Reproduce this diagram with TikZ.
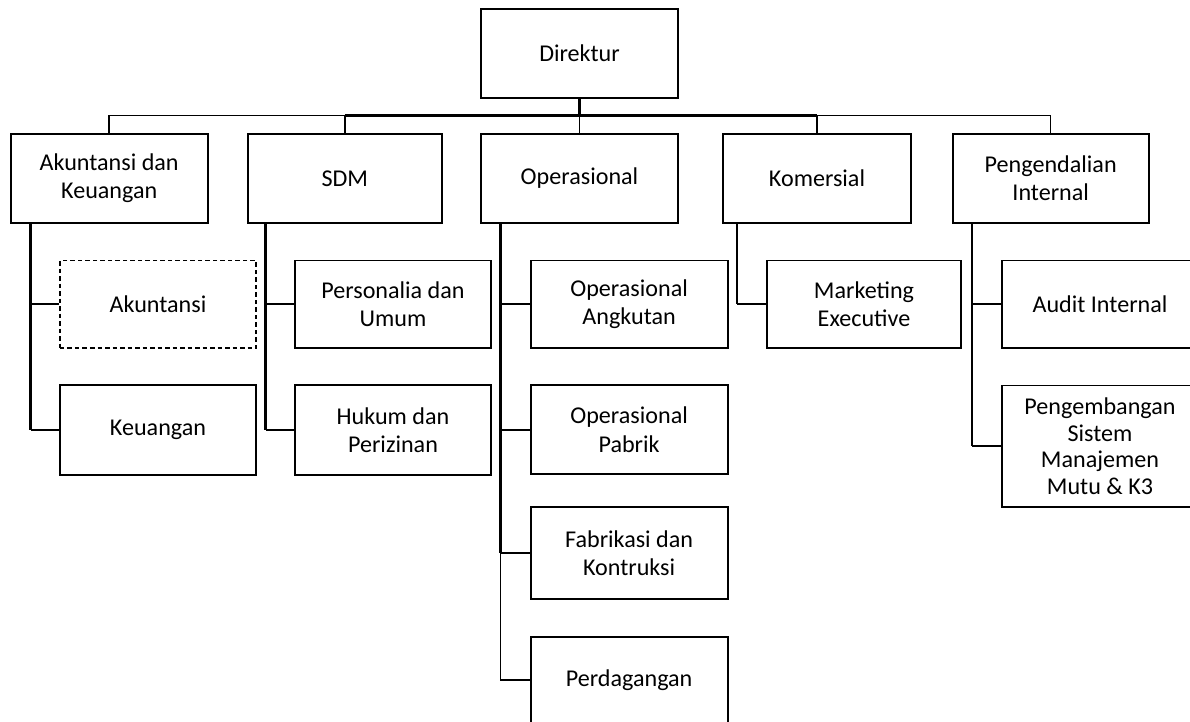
\documentclass[tikz,border=0pt]{standalone}
\usepackage{fontspec}
\setmainfont{Carlito}
\usetikzlibrary{calc}
\begin{document}
\begin{tikzpicture}[x=1bp,y=-1bp,
  box/.style={draw=black,line width=1.8bp,fill=white,rectangle,align=center,inner sep=2bp,
    font=\fontsize{24.2}{28.5}\selectfont,minimum width=196bp,minimum height=88bp},
  dbox/.style={box,dash pattern=on 4.5bp off 3bp},
  conn/.style={draw=black,line width=1.7bp},
  spine/.style={draw=black,line width=2.6bp},
  thin/.style={draw=black,line width=1.5bp}]
\fill[white] (0,0) rectangle (1190,722);
\useasboundingbox (0,0) rectangle (1190,722);
% top
\node[box,minimum width=197bp,minimum height=88.4bp] (dir) at (579.5,53.5) {Direktur};
% level 1
\node[box,minimum width=197bp,minimum height=88.4bp] (akk) at (109.2,178.5) {Akuntansi dan\\Keuangan};
\node[box,minimum width=194.4bp,minimum height=88.4bp] (sdm) at (344.8,178.5) {SDM};
\node[box,minimum width=197bp,minimum height=88.4bp] (ops) at (579.5,178.5) {Operasional};
\node[box,minimum width=188bp,minimum height=88.4bp] (kom) at (817,178.5) {Komersial};
\node[box,minimum width=196bp,minimum height=88.4bp] (pen) at (1050.7,178.5) {Pengendalian\\Internal};
% bus
\coordinate (bus) at (0,115.7);
\draw[thin] (akk.north) -- (akk.north |- bus) -- (pen.north |- bus) -- (pen.north);
\draw[spine] (sdm.north |- bus) -- (kom.north |- bus);
\draw[spine] (dir.south) -- (dir.south |- bus);
\draw[thin] (sdm.north |- bus) -- (sdm.north);
\draw[thin] (ops.north |- bus) -- (ops.north);
\draw[thin] (kom.north |- bus) -- (kom.north);
% children
\node[dbox,minimum height=87.5bp] (akt) at (158,304.3) {Akuntansi};
\node[box,minimum height=90bp] (keu) at (158,430) {Keuangan};
\node[box,minimum height=87.5bp] (prs) at (393,304.3) {Personalia dan\\Umum};
\node[box,minimum height=90bp] (huk) at (393,430) {Hukum dan\\Perizinan};
\node[box,minimum width=197bp,minimum height=87.5bp] (oa) at (629.1,304.3) {Operasional\\Angkutan};
\node[box,minimum width=197bp,minimum height=89bp] (op) at (629.1,429.7) {Operasional\\Pabrik};
\node[box,minimum width=197bp,minimum height=92bp] (fk) at (629.1,553) {Fabrikasi dan\\Kontruksi};
\node[box,minimum width=197bp,minimum height=86bp] (pd) at (629.1,680) {Perdagangan};
\node[box,minimum width=194.7bp,minimum height=87.5bp] (mk) at (864,304.3) {Marketing\\Executive};
\node[box,minimum height=87.5bp] (au) at (1100,304.3) {Audit Internal};
\node[box,minimum height=121.2bp,font=\fontsize{24.2}{26.6}\selectfont] (pg) at (1100,446.1) {Pengembangan\\Sistem\\Manajemen\\Mutu \& K3};
% spines
\coordinate (sA) at ($(akk.south west)+(20.8,0)$);
\coordinate (sS) at ($(sdm.south west)+(19,0)$);
\coordinate (sO) at ($(ops.south west)+(20.3,0)$);
\coordinate (sK) at ($(kom.south west)+(15,0)$);
\coordinate (sP) at ($(pen.south west)+(20.2,0)$);
\draw[spine] (sA) -- (sA |- keu.west);
\draw[conn] (sA |- akt.west) -- (akt.west);
\draw[conn] (sA |- keu.west) -- (keu.west);
\draw[spine] (sS) -- (sS |- huk.west);
\draw[conn] (sS |- prs.west) -- (prs.west);
\draw[conn] (sS |- huk.west) -- (huk.west);
\draw[spine] (sO) -- (sO |- fk.west);
\draw[conn] (sO |- fk.west) -- (sO |- pd.west);
\draw[conn] (sO |- oa.west) -- (oa.west);
\draw[conn] (sO |- op.west) -- (op.west);
\draw[conn] (sO |- fk.west) -- (fk.west);
\draw[conn] (sO |- pd.west) -- (pd.west);
\draw[spine] (sK) -- (sK |- mk.west);
\draw[conn] (sK |- mk.west) -- (mk.west);
\draw[spine] (sP) -- (sP |- pg.west);
\draw[conn] (sP |- au.west) -- (au.west);
\draw[conn] (sP |- pg.west) -- (pg.west);
\end{tikzpicture}
\end{document}
